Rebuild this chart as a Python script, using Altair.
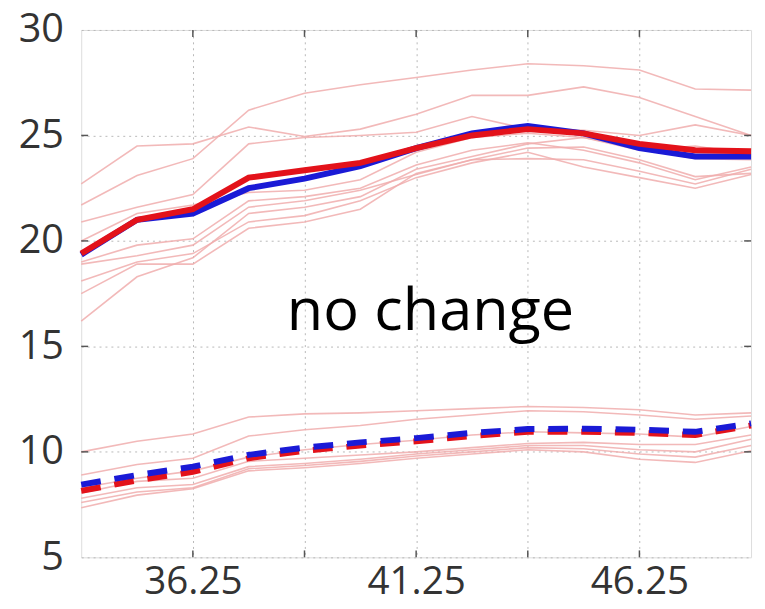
import altair as alt
import pandas as pd

# ---- data ----
x_vals = [33.75, 35.0, 36.25, 37.5, 38.75, 40.0, 41.25, 42.5, 43.75, 45.0, 46.25, 47.5, 48.75]

upper_red = [19.4, 21.0, 21.5, 23.0, 23.35, 23.7, 24.4, 25.0, 25.3, 25.1, 24.6, 24.3, 24.25]
upper_blue = [19.35, 21.0, 21.3, 22.5, 22.95, 23.55, 24.4, 25.1, 25.45, 25.1, 24.4, 24.0, 24.0]

lower_red = [8.15, 8.65, 9.05, 9.7, 10.05, 10.3, 10.5, 10.75, 10.95, 10.95, 10.9, 10.8, 11.25]
lower_blue = [8.45, 8.9, 9.3, 9.86, 10.2, 10.45, 10.65, 10.9, 11.08, 11.1, 11.05, 10.95, 11.35]

upper_thin = [
    [21.7, 23.1, 23.9, 26.2, 27.0, 27.4, 27.75, 28.1, 28.4, 28.3, 28.1, 27.2, 27.15],
    [22.7, 24.5, 24.6, 25.4, 24.95, 25.3, 26.0, 26.9, 26.9, 27.3, 26.8, 25.9, 25.0],
    [20.9, 21.6, 22.2, 24.6, 24.9, 25.0, 25.15, 25.9, 25.3, 25.25, 25.0, 25.5, 25.0],
    [19.0, 19.8, 20.1, 21.9, 22.1, 22.5, 23.6, 24.3, 24.65, 24.3, 23.7, 22.9, 23.5],
    [18.9, 19.3, 19.8, 21.6, 21.9, 22.4, 23.15, 23.85, 24.4, 24.45, 23.85, 23.05, 23.2],
    [18.1, 19.0, 19.4, 20.9, 21.2, 21.9, 23.0, 23.7, 24.2, 23.5, 23.0, 22.5, 23.15],
    [17.5, 18.9, 18.9, 20.6, 20.9, 21.5, 23.2, 23.85, 23.9, 23.85, 23.3, 22.7, 23.4],
    [16.2, 18.3, 19.2, 21.3, 21.6, 22.1, 23.4, 24.0, 24.6, 24.9, 24.4, 23.9, 23.85],
    [20.0, 21.3, 21.7, 22.3, 22.4, 22.9, 24.2, 24.9, 25.1, 24.9, 24.3, 24.5, 24.1],
]

lower_thin = [
    [10.0, 10.5, 10.85, 11.65, 11.8, 11.85, 11.95, 12.05, 12.15, 12.1, 12.0, 11.75, 11.85],
    [8.9, 9.4, 9.7, 10.75, 11.05, 11.25, 11.55, 11.75, 11.95, 11.9, 11.75, 11.55, 11.7],
    [8.05, 8.6, 8.75, 9.55, 9.7, 9.85, 10.0, 10.2, 10.4, 10.45, 10.35, 10.35, 10.8],
    [7.8, 8.3, 8.45, 9.3, 9.45, 9.65, 9.9, 10.1, 10.3, 10.3, 10.1, 10.0, 10.6],
    [7.35, 7.95, 8.25, 9.1, 9.25, 9.45, 9.7, 9.9, 10.1, 10.0, 9.65, 9.5, 10.05],
    [7.6, 8.1, 8.3, 9.2, 9.35, 9.55, 9.8, 10.0, 10.2, 10.15, 9.9, 9.75, 10.3],
    [8.3, 8.75, 9.1, 9.75, 10.1, 10.35, 10.55, 10.8, 10.95, 10.9, 10.85, 10.7, 11.2],
]

x_tick_values = [36.25, 38.75, 41.25, 43.75, 46.25]
x_label_values = [36.25, 41.25, 46.25]
y_tick_values = [5, 10, 15, 20, 25, 30]
annotation = ["no change"]

W, H = 677, 533
X_DOMAIN = [33.75, 48.75]
Y_DOMAIN = [5, 30]

# ---- tables ----
rows = []
for i, s in enumerate(upper_thin):
    for x, y in zip(x_vals, s):
        rows.append({"x": x, "y": y, "id": f"u{i}"})
for i, s in enumerate(lower_thin):
    for x, y in zip(x_vals, s):
        rows.append({"x": x, "y": y, "id": f"l{i}"})
thin_df = pd.DataFrame(rows)

def series_df(vals):
    return pd.DataFrame({"x": x_vals, "y": vals})

xs = alt.Scale(domain=X_DOMAIN, nice=False, zero=False)
ys = alt.Scale(domain=Y_DOMAIN, nice=False, zero=False)

label_expr = "indexof([" + ",".join(str(v) for v in x_label_values) + "], datum.value) >= 0 ? datum.label : ''"

x_axis = alt.Axis(values=x_tick_values, format=".2f", labelExpr=label_expr, grid=True,
                  gridDash=[2, 4], gridColor="#b8b8b8", gridWidth=1, ticks=False, domain=False,
                  labelFontSize=39, labelFont="Open Sans", labelColor="#333333",
                  labelPadding=6, title=None, labelFlush=False)
y_axis = alt.Axis(values=y_tick_values, grid=True, gridDash=[2, 4], gridColor="#b8b8b8",
                  gridWidth=1, ticks=False, domain=False, labelFontSize=40,
                  labelFont="Open Sans", labelColor="#333333", labelPadding=18, title=None)

base_x = alt.X("x:Q", scale=xs, axis=x_axis)
base_y = alt.Y("y:Q", scale=ys, axis=y_axis)

thin = alt.Chart(thin_df).mark_line(strokeWidth=1.6, color="#f0adad", opacity=0.85).encode(
    x=base_x, y=base_y, detail="id:N")

def thick(vals, color, dash=None):
    kw = dict(strokeWidth=6, color=color, strokeCap="butt")
    if dash:
        kw["strokeDash"] = dash
    return alt.Chart(series_df(vals)).mark_line(**kw).encode(
        x=alt.X("x:Q", scale=xs), y=alt.Y("y:Q", scale=ys))

blue_up = thick(upper_blue, "#1a1ad6")
red_up = thick(upper_red, "#e3121a")
red_lo = thick(lower_red, "#e3121a", [20, 14])
blue_lo = thick(lower_blue, "#1a1ad6", [20, 14])

# inward ticks
tx = pd.DataFrame({"t": x_tick_values})
ty = pd.DataFrame({"t": y_tick_values[1:-1]})
tick_col = "#555555"
bx = alt.Chart(tx).mark_rule(color=tick_col, strokeWidth=1.5).encode(
    x=alt.X("t:Q", scale=xs), y=alt.value(H), y2=alt.value(H - 7))
tpx = alt.Chart(tx).mark_rule(color=tick_col, strokeWidth=1.5).encode(
    x=alt.X("t:Q", scale=xs), y=alt.value(0), y2=alt.value(7))
ly = alt.Chart(ty).mark_rule(color=tick_col, strokeWidth=1.5).encode(
    y=alt.Y("t:Q", scale=ys), x=alt.value(0), x2=alt.value(7))
ry = alt.Chart(ty).mark_rule(color=tick_col, strokeWidth=1.5).encode(
    y=alt.Y("t:Q", scale=ys), x=alt.value(W), x2=alt.value(W - 7))

txt = alt.Chart(pd.DataFrame({"label": annotation})).mark_text(
    font="Open Sans", fontSize=60, color="#000000", align="center", baseline="alphabetic"
).encode(x=alt.value(353), y=alt.value(303), text="label:N")

chart = alt.layer(thin, blue_up, red_up, red_lo, blue_lo, bx, tpx, ly, ry, txt).properties(
    width=W, height=H,
    autosize=alt.AutoSizeParams(type="none"),
    padding={"left": 74, "top": 19, "right": 6, "bottom": 48},
).configure_view(stroke="#4d4d4d", strokeWidth=2.2).configure(background="white")

chart.save("out.html", embed_options={"renderer": "svg", "actions": False})
